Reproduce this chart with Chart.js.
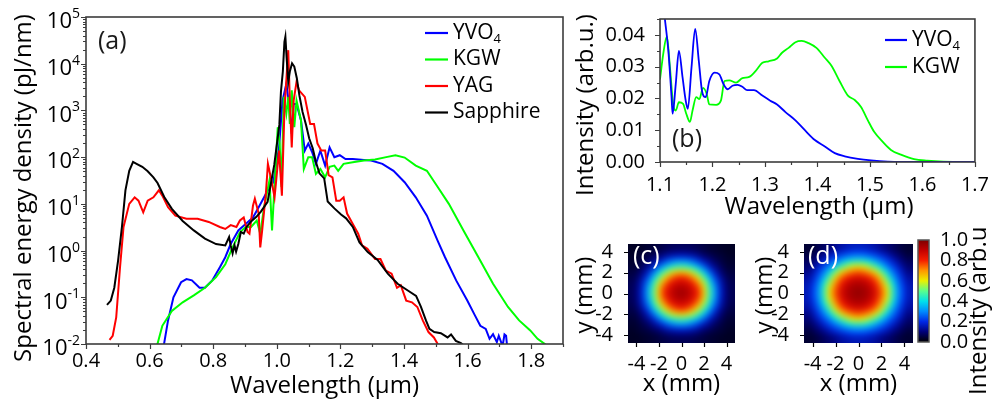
<!DOCTYPE html>
<html>
<head>
<meta charset="utf-8">
<title>Spectra and beam profiles</title>
<script src="https://cdn.jsdelivr.net/npm/chart.js@4.4.1/dist/chart.umd.min.js"></script>
<style>
  html, body { margin: 0; padding: 0; background: #fff; }
  #fig { position: relative; width: 992px; height: 400px; overflow: hidden; }
  #fig canvas { position: absolute; }
</style>
</head>
<body>
<div id="fig">
  <canvas id="spec" width="570" height="400" style="left:0;top:0"></canvas>
  <canvas id="zoomSpec" width="422" height="225" style="left:570px;top:0"></canvas>
  <canvas id="beamC" width="180" height="175" style="left:570px;top:225px"></canvas>
  <canvas id="beamD" width="170" height="175" style="left:750px;top:225px"></canvas>
  <canvas id="cbar" width="87" height="175" style="left:905px;top:225px"></canvas>
</div>
<script>
// ---- panel (a): spectral energy density, log scale ----
const aNames = ['YVO4', 'KGW', 'YAG', 'Sapphire'];
const aColors = ['#0000ff', '#00ff00', '#ff0000', '#000000'];

const aYvoWl = [0.643, 0.658, 0.675, 0.699, 0.716, 0.733, 0.757, 0.774, 0.797, 0.821, 0.838, 0.855, 0.879, 0.902, 0.925, 0.943, 0.960, 0.977, 0.989, 1.007, 1.018, 1.030, 1.041, 1.047, 1.053, 1.062, 1.076, 1.088, 1.099, 1.111, 1.123, 1.137, 1.152, 1.166, 1.181, 1.198, 1.216, 1.239, 1.274, 1.297, 1.332, 1.367, 1.402, 1.437, 1.472, 1.506, 1.529, 1.564, 1.599, 1.623, 1.640, 1.657, 1.669, 1.680, 1.692, 1.698, 1.710, 1.716, 1.721, 1.725];
const aYvoVal = [0.008, 0.032, 0.1, 0.21, 0.245, 0.23, 0.16, 0.16, 0.23, 0.44, 0.72, 1.38, 2.7, 3.7, 5.1, 8.5, 13.8, 23, 29, 162, 1620, 3700, 1000, 316, 1380, 1380, 617, 138, 195, 129, 72, 138, 66, 162, 100, 110, 91, 91, 87, 85, 72, 51, 29, 13.8, 5.6, 1.62, 0.72, 0.23, 0.085, 0.041, 0.0245, 0.021, 0.0129, 0.0162, 0.011, 0.015, 0.009, 0.016, 0.015, 0.008];

const aKgwWl = [0.623, 0.640, 0.670, 0.704, 0.739, 0.774, 0.809, 0.838, 0.861, 0.884, 0.902, 0.919, 0.937, 0.948, 0.960, 0.977, 0.985, 0.995, 1.003, 1.009, 1.015, 1.022, 1.030, 1.036, 1.041, 1.047, 1.055, 1.062, 1.076, 1.085, 1.099, 1.111, 1.123, 1.137, 1.152, 1.166, 1.181, 1.193, 1.210, 1.239, 1.274, 1.309, 1.344, 1.373, 1.402, 1.437, 1.472, 1.506, 1.541, 1.587, 1.634, 1.680, 1.727, 1.762, 1.797, 1.820, 1.843, 1.855];
const aKgwVal = [0.009, 0.0245, 0.051, 0.078, 0.11, 0.16, 0.27, 0.51, 1.17, 2.45, 3.2, 3.2, 4.4, 2.3, 8.5, 32, 2.7, 44, 437, 195, 23, 1950, 850, 1950, 513, 2690, 437, 1620, 617, 56, 100, 100, 44, 56, 37, 62, 66, 51, 72, 78, 85, 89, 100, 110, 98, 66, 51, 23, 10, 2.7, 0.72, 0.195, 0.062, 0.032, 0.0195, 0.0129, 0.01, 0.008];

const aYagWl = [0.474, 0.484, 0.495, 0.507, 0.518, 0.536, 0.553, 0.565, 0.580, 0.594, 0.612, 0.629, 0.640, 0.658, 0.681, 0.716, 0.751, 0.786, 0.821, 0.838, 0.855, 0.873, 0.884, 0.896, 0.908, 0.914, 0.925, 0.931, 0.943, 0.948, 0.954, 0.966, 0.972, 0.983, 0.993, 1.007, 1.016, 1.024, 1.036, 1.041, 1.047, 1.053, 1.062, 1.070, 1.088, 1.105, 1.117, 1.128, 1.140, 1.152, 1.163, 1.175, 1.187, 1.198, 1.210, 1.221, 1.239, 1.256, 1.268, 1.285, 1.309, 1.326, 1.343, 1.361, 1.378, 1.390, 1.407, 1.425, 1.442, 1.459, 1.477, 1.494, 1.506, 1.515];
const aYagVal = [0.0123, 0.015, 0.037, 0.44, 3.2, 10, 13.8, 11.7, 6.6, 11.7, 13.8, 19.5, 15, 8.5, 5.6, 4.8, 4.8, 4.1, 3.2, 2.9, 3.5, 3.2, 4.4, 5.1, 2.5, 2.3, 9.1, 12.9, 6.2, 1.17, 2.7, 17.8, 72, 32, 13.8, 138, 15, 1000, 19500, 1620, 162, 1620, 4070, 2690, 1950, 513, 513, 195, 138, 138, 41, 37, 11.7, 11.7, 13.8, 6.2, 3.7, 2.3, 1.29, 1.1, 0.66, 0.66, 0.37, 0.32, 0.16, 0.18, 0.085, 0.078, 0.062, 0.032, 0.018, 0.0138, 0.01, 0.008];

const aSapWl = [0.466, 0.478, 0.489, 0.501, 0.513, 0.524, 0.536, 0.548, 0.559, 0.577, 0.594, 0.612, 0.625, 0.631, 0.646, 0.670, 0.704, 0.739, 0.774, 0.809, 0.838, 0.850, 0.855, 0.861, 0.867, 0.872, 0.879, 0.887, 0.896, 0.905, 0.919, 0.935, 0.950, 0.971, 0.992, 1.008, 1.013, 1.019, 1.024, 1.027, 1.031, 1.036, 1.041, 1.048, 1.055, 1.063, 1.071, 1.081, 1.092, 1.102, 1.113, 1.123, 1.134, 1.149, 1.160, 1.181, 1.202, 1.218, 1.239, 1.260, 1.286, 1.317, 1.349, 1.380, 1.412, 1.438, 1.453, 1.469, 1.480, 1.495, 1.516, 1.537, 1.548, 1.563, 1.579, 1.59];
const aSapVal = [0.069, 0.085, 0.16, 0.62, 3.2, 19.5, 51, 79, 72, 62, 50, 37, 28, 23, 14, 7.8, 4.3, 2.7, 1.8, 1.38, 1.29, 1.95, 1.29, 0.87, 1.3, 0.95, 1.38, 2.5, 2.3, 3.2, 4.2, 5.2, 6.8, 11, 68, 490, 2500, 6800, 29500, 38000, 13200, 4100, 6800, 10200, 8700, 4900, 2100, 930, 490, 250, 155, 79, 45, 35, 11.2, 8, 5.9, 4.9, 3.2, 1.5, 0.93, 0.63, 0.32, 0.195, 0.14, 0.107, 0.063, 0.032, 0.021, 0.018, 0.017, 0.0138, 0.016, 0.0117, 0.0105, 0.009];

const aXTicks = [0.4, 0.6, 0.8, 1.0, 1.2, 1.4, 1.6, 1.8];
const aXMinor = [0.5, 0.7, 0.9, 1.1, 1.3, 1.5, 1.7, 1.9];
const aYTicks = [1e-2, 1e-1, 1, 10, 100, 1e3, 1e4, 1e5];

// ---- panel (b): linear intensity ----
const bNames = ['YVO4', 'KGW'];
const bColors = ['#0000ff', '#00ff00'];
const bYvoWl = [1.1, 1.105, 1.109, 1.116, 1.122, 1.124, 1.13, 1.136, 1.143, 1.149, 1.153, 1.16, 1.167, 1.174, 1.18, 1.187, 1.194, 1.204, 1.213, 1.221, 1.229, 1.238, 1.248, 1.257, 1.266, 1.279, 1.295, 1.31, 1.323, 1.339, 1.358, 1.376, 1.395, 1.414, 1.433, 1.452, 1.477, 1.502, 1.534, 1.559, 1.7];
const bYvoVal = [0.058, 0.051, 0.0454, 0.0348, 0.0204, 0.0152, 0.0245, 0.035, 0.0266, 0.0193, 0.0167, 0.0297, 0.0419, 0.0317, 0.0224, 0.0204, 0.0255, 0.0281, 0.0276, 0.0245, 0.0229, 0.024, 0.0243, 0.0237, 0.0226, 0.0226, 0.0209, 0.0193, 0.0181, 0.0157, 0.0131, 0.01, 0.0069, 0.0049, 0.0028, 0.0018, 0.001, 0.0005, 0.0001, 0, 0];
const bKgwWl = [1.1, 1.106, 1.113, 1.119, 1.125, 1.13, 1.136, 1.144, 1.15, 1.157, 1.162, 1.169, 1.175, 1.182, 1.189, 1.194, 1.207, 1.216, 1.223, 1.232, 1.245, 1.257, 1.27, 1.282, 1.295, 1.307, 1.323, 1.332, 1.345, 1.358, 1.37, 1.383, 1.398, 1.414, 1.427, 1.442, 1.458, 1.471, 1.483, 1.496, 1.508, 1.524, 1.54, 1.559, 1.584, 1.609, 1.64, 1.7];
const bKgwVal = [0.026, 0.0338, 0.0395, 0.0297, 0.0183, 0.0162, 0.0188, 0.0183, 0.0152, 0.0126, 0.0162, 0.0204, 0.0198, 0.0233, 0.0214, 0.0181, 0.018, 0.0193, 0.0255, 0.0257, 0.025, 0.0264, 0.0268, 0.0286, 0.0312, 0.0317, 0.0326, 0.0343, 0.0359, 0.0377, 0.0381, 0.0374, 0.0359, 0.0328, 0.0302, 0.0255, 0.0209, 0.0195, 0.0173, 0.0131, 0.0095, 0.0064, 0.0038, 0.0023, 0.0009, 0.0004, 0.0001, 0];
const bXTicks = [1.1, 1.2, 1.3, 1.4, 1.5, 1.6, 1.7];
const bXMinor = [1.15, 1.25, 1.35, 1.45, 1.55, 1.65];
const bYTicks = [0, 0.01, 0.02, 0.03, 0.04];
const bYMinor = [0.005, 0.015, 0.025, 0.035, 0.045];

// ---- panels (c), (d): beam profiles, rows from y = 4.5 down to y = -4.5 ----
const beamX = [-4.5, -4, -3.5, -3, -2.5, -2, -1.5, -1, -0.5, 0, 0.5, 1, 1.5, 2, 2.5, 3, 3.5, 4, 4.5];
const beamY = [4.5, 4, 3.5, 3, 2.5, 2, 1.5, 1, 0.5, 0, -0.5, -1, -1.5, -2, -2.5, -3, -3.5, -4, -4.5];
const beamTicks = [-4, -2, 0, 2, 4];
const beamC = [
  [.03,.03,.03,.04,.04,.05,.05,.06,.06,.06,.06,.06,.05,.05,.04,.04,.03,.03,.03],
  [.03,.03,.04,.04,.05,.06,.08,.09,.10,.10,.10,.09,.08,.06,.05,.04,.04,.03,.03],
  [.03,.04,.05,.06,.08,.10,.13,.16,.17,.18,.17,.16,.13,.10,.08,.06,.05,.04,.03],
  [.04,.04,.06,.08,.12,.16,.22,.27,.31,.32,.31,.27,.22,.16,.12,.08,.06,.04,.04],
  [.04,.05,.08,.12,.17,.26,.35,.42,.46,.48,.46,.42,.35,.26,.17,.12,.08,.05,.04],
  [.05,.06,.10,.16,.26,.38,.48,.57,.63,.65,.63,.57,.48,.38,.26,.16,.10,.06,.05],
  [.05,.08,.13,.22,.35,.48,.61,.71,.78,.80,.78,.71,.61,.48,.35,.22,.13,.08,.05],
  [.06,.09,.16,.27,.42,.57,.71,.81,.86,.88,.86,.81,.71,.57,.42,.27,.16,.09,.06],
  [.06,.10,.17,.31,.46,.63,.78,.86,.91,.93,.91,.86,.78,.63,.46,.31,.17,.10,.06],
  [.06,.10,.18,.32,.48,.65,.80,.88,.93,.95,.93,.88,.80,.65,.48,.32,.18,.10,.06],
  [.06,.10,.17,.31,.46,.63,.78,.86,.91,.93,.91,.86,.78,.63,.46,.31,.17,.10,.06],
  [.06,.09,.16,.27,.42,.57,.71,.81,.86,.88,.86,.81,.71,.57,.42,.27,.16,.09,.06],
  [.05,.08,.13,.22,.35,.48,.61,.71,.78,.80,.78,.71,.61,.48,.35,.22,.13,.08,.05],
  [.05,.06,.10,.16,.26,.38,.48,.57,.63,.65,.63,.57,.48,.38,.26,.16,.10,.06,.05],
  [.04,.05,.08,.12,.17,.26,.35,.42,.46,.48,.46,.42,.35,.26,.17,.12,.08,.05,.04],
  [.04,.04,.06,.08,.12,.16,.22,.27,.31,.32,.31,.27,.22,.16,.12,.08,.06,.04,.04],
  [.03,.04,.05,.06,.08,.10,.13,.16,.17,.18,.17,.16,.13,.10,.08,.06,.05,.04,.03],
  [.03,.03,.04,.04,.05,.06,.08,.09,.10,.10,.10,.09,.08,.06,.05,.04,.04,.03,.03],
  [.03,.03,.03,.04,.04,.05,.05,.06,.06,.06,.06,.06,.05,.05,.04,.04,.03,.03,.03]
];
const beamD = [
  [.04,.04,.05,.07,.08,.10,.12,.13,.14,.14,.14,.13,.12,.10,.08,.07,.05,.04,.04],
  [.04,.05,.07,.09,.12,.14,.17,.19,.21,.21,.21,.19,.17,.14,.12,.09,.07,.05,.04],
  [.05,.07,.10,.13,.17,.21,.24,.27,.29,.30,.29,.27,.24,.21,.17,.13,.10,.07,.05],
  [.07,.09,.13,.18,.23,.28,.34,.40,.44,.45,.44,.40,.34,.28,.23,.18,.13,.09,.07],
  [.08,.12,.17,.23,.29,.39,.48,.55,.60,.62,.60,.55,.48,.39,.29,.23,.17,.12,.08],
  [.10,.14,.21,.28,.39,.51,.62,.69,.74,.76,.74,.69,.62,.51,.39,.28,.21,.14,.10],
  [.12,.17,.24,.34,.48,.62,.73,.80,.84,.86,.84,.80,.73,.62,.48,.34,.24,.17,.12],
  [.13,.19,.27,.40,.55,.69,.80,.87,.91,.92,.91,.87,.80,.69,.55,.40,.27,.19,.13],
  [.14,.21,.29,.44,.60,.74,.84,.91,.94,.95,.94,.91,.84,.74,.60,.44,.29,.21,.14],
  [.14,.21,.30,.45,.62,.76,.86,.92,.95,.97,.95,.92,.86,.76,.62,.45,.30,.21,.14],
  [.14,.21,.29,.44,.60,.74,.84,.91,.94,.95,.94,.91,.84,.74,.60,.44,.29,.21,.14],
  [.13,.19,.27,.40,.55,.69,.80,.87,.91,.92,.91,.87,.80,.69,.55,.40,.27,.19,.13],
  [.12,.17,.24,.34,.48,.62,.73,.80,.84,.86,.84,.80,.73,.62,.48,.34,.24,.17,.12],
  [.10,.14,.21,.28,.39,.51,.62,.69,.74,.76,.74,.69,.62,.51,.39,.28,.21,.14,.10],
  [.08,.12,.17,.23,.29,.39,.48,.55,.60,.62,.60,.55,.48,.39,.29,.23,.17,.12,.08],
  [.07,.09,.13,.18,.23,.28,.34,.40,.44,.45,.44,.40,.34,.28,.23,.18,.13,.09,.07],
  [.05,.07,.10,.13,.17,.21,.24,.27,.29,.30,.29,.27,.24,.21,.17,.13,.10,.07,.05],
  [.04,.05,.07,.09,.12,.14,.17,.19,.21,.21,.21,.19,.17,.14,.12,.09,.07,.05,.04],
  [.04,.04,.05,.07,.08,.10,.12,.13,.14,.14,.14,.13,.12,.10,.08,.07,.05,.04,.04]
];
const cbarTicks = [0, 0.2, 0.4, 0.6, 0.8, 1.0];

// colour map of the beam images (black -> blue -> cyan -> yellow -> red -> dark red)
const jetStops = [
  [0, [0, 0, 0]], [0.1, [0, 0, 120]], [0.2, [0, 40, 230]], [0.3, [0, 140, 255]],
  [0.4, [0, 225, 235]], [0.5, [90, 255, 140]], [0.6, [235, 240, 0]], [0.7, [255, 150, 0]],
  [0.8, [245, 30, 0]], [0.9, [195, 0, 0]], [1, [125, 0, 0]]
];

const FONT = "'Open Sans', sans-serif";
Chart.defaults.font.family = FONT;
Chart.defaults.font.size = 20;
Chart.defaults.color = '#000';

function jet(v) {
  v = Math.max(0, Math.min(1, v));
  for (let i = 1; i < jetStops.length; i++) {
    const p0 = jetStops[i - 1][0], c0 = jetStops[i - 1][1];
    const p1 = jetStops[i][0], c1 = jetStops[i][1];
    if (v <= p1) {
      const t = (v - p0) / (p1 - p0);
      return 'rgb(' + c0.map((c, k) => Math.round(c + (c1[k] - c) * t)).join(',') + ')';
    }
  }
  return 'rgb(125,0,0)';
}

function toXY(xs, ys) {
  return xs.map((x, i) => ({ x: x, y: ys[i] }));
}

function setTicks(values) {
  return s => { s.ticks = values.map(v => ({ value: v })); };
}

function tickMarks(ctx, chart, axis, values, len) {
  const a = chart.chartArea, s = chart.scales[axis];
  ctx.beginPath();
  values.forEach(v => {
    const p = Math.round(s.getPixelForValue(v)) + 0.5;
    if (axis === 'x') { ctx.moveTo(p, a.bottom); ctx.lineTo(p, a.bottom + len); }
    else { ctx.moveTo(a.left, p); ctx.lineTo(a.left - len, p); }
  });
  ctx.stroke();
}

function rotText(ctx, str, x, y, size) {
  ctx.save();
  ctx.translate(x, y);
  ctx.rotate(-Math.PI / 2);
  ctx.font = size + 'px ' + FONT;
  ctx.textAlign = 'center';
  ctx.textBaseline = 'middle';
  ctx.fillText(str, 0, 0);
  ctx.restore();
}

// label with trailing digits drawn as subscript (YVO4)
function subText(ctx, str, x, y, size) {
  const m = str.match(/^(.*?)(\d*)$/);
  ctx.font = size + 'px ' + FONT;
  ctx.textAlign = 'left';
  ctx.textBaseline = 'middle';
  ctx.fillText(m[1], x, y);
  if (m[2]) {
    const w = ctx.measureText(m[1]).width;
    ctx.font = Math.round(size * 0.6) + 'px ' + FONT;
    ctx.fillText(m[2], x + w, y + size * 0.32);
  }
}

function decor(cfg) {
  return {
    id: 'decor',
    afterDatasetsDraw(chart) {
      const ctx = chart.ctx, a = chart.chartArea;
      ctx.save();
      ctx.strokeStyle = '#3c3c3c';
      ctx.fillStyle = '#000';
      if (cfg.frame) {
        ctx.lineWidth = 1.6;
        ctx.strokeRect(a.left, a.top, a.right - a.left, a.bottom - a.top);
      }
      ctx.lineWidth = 1.2;
      ctx.strokeStyle = cfg.tickColor || '#3c3c3c';
      if (cfg.xMajor) tickMarks(ctx, chart, 'x', cfg.xMajor, cfg.major);
      if (cfg.xMinor) tickMarks(ctx, chart, 'x', cfg.xMinor, cfg.minor);
      if (cfg.yMajor) tickMarks(ctx, chart, 'y', cfg.yMajor, cfg.major);
      if (cfg.yMinor) tickMarks(ctx, chart, 'y', cfg.yMinor, cfg.minor);
      if (cfg.xTitle) {
        ctx.font = cfg.xTitle.size + 'px ' + FONT;
        ctx.textAlign = 'center';
        ctx.textBaseline = 'middle';
        ctx.fillText(cfg.xTitle.text, cfg.xTitle.x, cfg.xTitle.y);
      }
      if (cfg.yTitle) rotText(ctx, cfg.yTitle.text, cfg.yTitle.x, cfg.yTitle.y, cfg.yTitle.size);
      if (cfg.legend) {
        const L = cfg.legend;
        L.names.forEach((name, i) => {
          const ds = chart.data.datasets.find(d => d.label === name);
          const y = L.y + i * L.dy;
          ctx.strokeStyle = ds.borderColor;
          ctx.lineWidth = 2.2;
          ctx.beginPath();
          ctx.moveTo(L.x, y);
          ctx.lineTo(L.x + L.len, y);
          ctx.stroke();
          ctx.fillStyle = '#000';
          subText(ctx, name, L.x + L.len + 5, y, L.size);
        });
      }
      if (cfg.letter) {
        ctx.fillStyle = cfg.letter.color;
        ctx.font = cfg.letter.size + 'px ' + FONT;
        ctx.textAlign = 'left';
        ctx.textBaseline = 'middle';
        ctx.fillText(cfg.letter.text, cfg.letter.x, cfg.letter.y);
      }
      if (cfg.extra) cfg.extra(chart, ctx);
      ctx.restore();
    }
  };
}

// softens the cell edges of the beam images (camera pictures are smooth)
const smoothCells = {
  id: 'smoothCells',
  afterDatasetsDraw(chart) {
    const ctx = chart.ctx, a = chart.chartArea;
    const w = Math.round(a.right - a.left), h = Math.round(a.bottom - a.top);
    const x0 = Math.round(a.left), y0 = Math.round(a.top);
    const off = document.createElement('canvas');
    off.width = w; off.height = h;
    off.getContext('2d').drawImage(chart.canvas, x0, y0, w, h, 0, 0, w, h);
    ctx.save();
    ctx.beginPath();
    ctx.rect(x0, y0, w, h);
    ctx.clip();
    ctx.filter = 'blur(3px)';
    ctx.drawImage(off, x0 - 5, y0 - 5, w + 10, h + 10);
    ctx.drawImage(off, x0, y0);
    ctx.restore();
  }
};

const baseOpts = {
  responsive: false,
  animation: false,
  events: [],
  plugins: { legend: { display: false }, tooltip: { enabled: false } }
};

// ---------------- (a) ----------------
const aMinorY = [];
for (let d = -2; d < 5; d++) for (let k = 2; k < 10; k++) aMinorY.push(k * Math.pow(10, d));

const aSeries = [
  [aSapWl, aSapVal], [aYagWl, aYagVal], [aKgwWl, aKgwVal], [aYvoWl, aYvoVal]
];
const aOrder = [3, 2, 1, 0]; // Sapphire drawn on top
new Chart(document.getElementById('spec'), {
  type: 'line',
  data: {
    datasets: aOrder.map((n, i) => ({
      label: aNames[n],
      data: toXY(aSeries[i][0], aSeries[i][1]),
      borderColor: aColors[n],
      borderWidth: 2,
      pointRadius: 0,
      tension: 0
    }))
  },
  options: Object.assign({}, baseOpts, {
    layout: { padding: { top: 17, right: 7, left: 0, bottom: 0 } },
    scales: {
      x: {
        type: 'linear', min: 0.4, max: 1.9,
        afterBuildTicks: setTicks(aXTicks),
        afterFit: s => { s.height = 56; },
        grid: { display: false }, border: { display: false },
        ticks: { padding: -3, autoSkip: false, maxRotation: 0, callback: v => v.toFixed(1) }
      },
      y: {
        type: 'logarithmic', min: 0.01, max: 1e5,
        afterBuildTicks: setTicks(aYTicks),
        afterFit: s => { s.width = 86; },
        grid: { display: false }, border: { display: false },
        ticks: { autoSkip: false, callback: () => '' }
      }
    }
  }),
  plugins: [decor({
    frame: true, major: 5, minor: 3,
    xMajor: aXTicks, xMinor: aXMinor, yMajor: aYTicks, yMinor: aMinorY,
    xTitle: { text: 'Wavelength (\u00b5m)', x: 324.5, y: 386, size: 24 },
    yTitle: { text: 'Spectral energy density (pJ/nm)', x: 24, y: 188, size: 24 },
    legend: { names: aNames, x: 425, y: 33, dy: 26.5, len: 23, size: 21 },
    letter: { text: '(a)', x: 98, y: 42, size: 25, color: '#1a1a1a' },
    extra(chart, ctx) {
      const sy = chart.scales.y, xr = chart.chartArea.left - 6;
      aYTicks.forEach(v => {
        const y = sy.getPixelForValue(v);
        const e = String(Math.round(Math.log10(v)));
        ctx.fillStyle = '#000';
        ctx.font = '14px ' + FONT;
        const we = ctx.measureText(e).width;
        ctx.textAlign = 'left';
        ctx.textBaseline = 'alphabetic';
        ctx.fillText(e, xr - we, y + 1);
        ctx.font = '22px ' + FONT;
        ctx.textAlign = 'right';
        ctx.textBaseline = 'middle';
        ctx.fillText('10', xr - we, y + 5);
      });
    }
  })]
});

// ---------------- (b) ----------------
const bSeries = [[bYvoWl, bYvoVal], [bKgwWl, bKgwVal]];
new Chart(document.getElementById('zoomSpec'), {
  type: 'line',
  data: {
    datasets: bNames.map((name, i) => ({
      label: name,
      data: toXY(bSeries[i][0], bSeries[i][1]),
      borderColor: bColors[i],
      borderWidth: 1.8,
      pointRadius: 0,
      cubicInterpolationMode: 'monotone'
    }))
  },
  options: Object.assign({}, baseOpts, {
    layout: { padding: { top: 16, right: 14, left: 0, bottom: 0 } },
    scales: {
      x: {
        type: 'linear', min: 1.1, max: 1.7,
        afterBuildTicks: setTicks(bXTicks),
        afterFit: s => { s.height = 63; },
        grid: { display: false }, border: { display: false },
        ticks: { padding: 3, autoSkip: false, maxRotation: 0, callback: v => v.toFixed(1) }
      },
      y: {
        min: 0, max: 0.045,
        afterBuildTicks: setTicks(bYTicks),
        afterFit: s => { s.width = 90; },
        grid: { display: false }, border: { display: false },
        ticks: { padding: 7, autoSkip: false, callback: v => v.toFixed(2) }
      }
    }
  }),
  plugins: [decor({
    frame: true, major: 5, minor: 3,
    xMajor: bXTicks, xMinor: bXMinor, yMajor: bYTicks, yMinor: bYMinor,
    xTitle: { text: 'Wavelength (\u00b5m)', x: 249, y: 207, size: 24 },
    yTitle: { text: 'Intensity (arb.u.)', x: 16, y: 105, size: 24 },
    legend: { names: bNames, x: 315, y: 40, dy: 27, len: 22, size: 21 },
    letter: { text: '(b)', x: 102, y: 140, size: 25, color: '#1a1a1a' }
  })]
});

// ---------------- (c), (d) ----------------
function beamPoints(grid) {
  const pts = [];
  grid.forEach((row, r) => row.forEach((v, c) => pts.push({ x: beamX[c], y: beamY[r], v: v })));
  return pts;
}

function cellRadius(chart) {
  const s = chart.scales.x;
  if (!s) return 3;
  const w = Math.abs(s.getPixelForValue(0.5) - s.getPixelForValue(0));
  return (w + 0.8) / Math.SQRT2;
}

function beamChart(id, grid, o) {
  return new Chart(document.getElementById(id), {
    type: 'scatter',
    data: {
      datasets: [{
        data: beamPoints(grid),
        pointStyle: 'rect',
        pointRadius: ctx => cellRadius(ctx.chart),
        pointBackgroundColor: ctx => (ctx.raw ? jet(ctx.raw.v) : '#000'),
        pointBorderWidth: 0,
        clip: 0
      }]
    },
    options: Object.assign({}, baseOpts, {
      layout: { padding: { top: 12, right: o.right, left: 0, bottom: 0 } },
      scales: {
        x: {
          min: -4.75, max: 4.75,
          afterBuildTicks: setTicks(beamTicks),
          afterFit: s => { s.height = 57; },
          grid: { display: false }, border: { display: false },
          ticks: { padding: 1, autoSkip: false, maxRotation: 0, callback: v => String(v) }
        },
        y: {
          min: -4.75, max: 4.75,
          afterBuildTicks: setTicks(beamTicks),
          afterFit: s => { s.width = o.yw; },
          grid: { display: false }, border: { display: false },
          ticks: { padding: 7, autoSkip: false, callback: v => String(v) }
        }
      }
    }),
    plugins: [smoothCells, decor({
      major: 4, tickColor: '#000',
      xMajor: beamTicks, yMajor: beamTicks,
      xTitle: { text: 'x (mm)', x: o.xt, y: 159, size: 24 },
      yTitle: { text: 'y (mm)', x: 15, y: 70, size: 24 },
      letter: { text: o.letter, x: o.lx, y: 32, size: 25, color: '#ffffff' }
    })]
  });
}

beamChart('beamC', beamC, { right: 15, yw: 58, xt: 111.5, letter: '(c)', lx: 63 });
beamChart('beamD', beamD, { right: 7, yw: 54, xt: 108.5, letter: '(d)', lx: 58 });

// ---------------- colour bar ----------------
new Chart(document.getElementById('cbar'), {
  type: 'scatter',
  data: { datasets: [] },
  options: Object.assign({}, baseOpts, {
    layout: { padding: { top: 12, right: 0, left: 13, bottom: 58 } },
    scales: {
      x: { display: false, min: 0, max: 1 },
      y: {
        position: 'right', min: 0, max: 1,
        afterBuildTicks: setTicks(cbarTicks),
        afterFit: s => { s.width = 63; },
        grid: { display: false }, border: { display: false },
        ticks: { padding: 3, autoSkip: false, callback: v => v.toFixed(1) }
      }
    }
  }),
  plugins: [{
    id: 'colorbar',
    beforeDatasetsDraw(chart) {
      const ctx = chart.ctx, a = chart.chartArea, sy = chart.scales.y;
      const g = ctx.createLinearGradient(0, sy.getPixelForValue(0), 0, sy.getPixelForValue(1));
      jetStops.forEach(s => g.addColorStop(s[0], 'rgb(' + s[1].join(',') + ')'));
      ctx.save();
      ctx.fillStyle = g;
      ctx.fillRect(a.left, a.top, a.right - a.left, a.bottom - a.top);
      ctx.strokeStyle = '#555';
      ctx.lineWidth = 1.5;
      ctx.strokeRect(a.left, a.top, a.right - a.left, a.bottom - a.top);
      ctx.fillStyle = '#000';
      rotText(ctx, 'Intensity (arb.u.)', 74, 79, 24);
      ctx.restore();
    }
  }]
});
</script>
</body>
</html>
